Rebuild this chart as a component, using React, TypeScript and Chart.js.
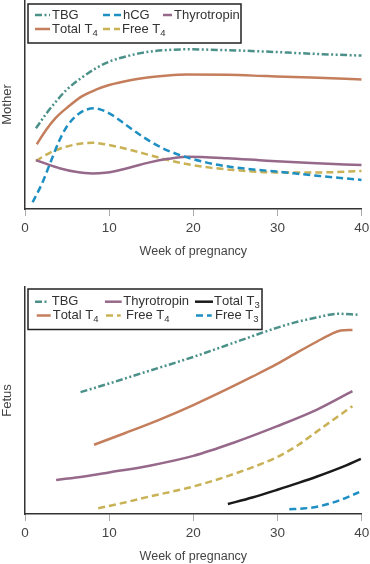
import React, { useEffect, useRef } from 'react';
import { Chart, registerables } from 'chart.js';

Chart.register(...registerables);

// ---------- Data: Mother panel ----------
const xTicks = [0, 10, 20, 30, 40];

const motherTBGWeeks = [1.3, 2.5, 3.7, 4.9, 6.8, 8.5, 10, 12.5, 14.8, 17, 19.2, 24, 28.7, 34, 40];
const motherTBG = [38.6, 45.5, 51.5, 56.9, 63, 67.5, 70.5, 73.5, 75.3, 76.1, 76.4, 76, 75.3, 74.3, 73.4];

const motherTT4Weeks = [1.4, 2.5, 3.7, 5, 6.8, 8.5, 10, 12.5, 14.8, 17, 19.2, 24, 28.7, 34, 40];
const motherTT4 = [31, 37.8, 43.8, 48.5, 54, 57.2, 59.3, 61.6, 63, 63.9, 64.3, 64.2, 63.6, 62.9, 62];

const motherHCGWeeks = [0.9, 2, 2.9, 4, 4.9, 6.4, 8.2, 10, 12, 14, 16, 18.4, 21.5, 24.7, 29.9, 35, 40];
const motherHCG = [3.2, 12, 21, 32, 39, 45.6, 48.2, 45.8, 40.2, 34.6, 29.8, 25.8, 22.3, 20, 17.9, 15.8, 13.9];

const motherFT4Weeks = [1.3, 3, 4.9, 6.5, 8, 10, 12.5, 14.8, 17, 19.2, 22, 24.7, 29.9, 35, 40];
const motherFT4 = [23, 27, 29.8, 31.2, 31.7, 30.6, 28.3, 25.8, 23.4, 21.5, 19.8, 18.7, 17.5, 17.5, 18.2];

const motherTSHWeeks = [1.3, 2.8, 4.1, 6, 8, 9.5, 10.8, 12.8, 14.8, 17, 19.2, 24, 28.7, 34, 40];
const motherTSH = [23.4, 21.2, 19.5, 17.8, 17, 17.3, 18.2, 20.2, 22.3, 24, 25, 24.3, 23.1, 22, 21];

// ---------- Data: Fetus panel ----------
const fetusTBGWeeks = [6.6, 10, 12.8, 16, 20, 24.7, 29.9, 32.5, 34.7, 37.1, 39.5];
const fetusTBG = [53.7, 57.5, 60.8, 64.5, 69.2, 75.3, 82, 84.8, 86.6, 88.2, 87.8];

const fetusTT4Weeks = [8.2, 12, 16, 20, 24, 27, 29.9, 32.5, 34.7, 36.5, 37.5, 38.9];
const fetusTT4 = [30.5, 35.8, 41.6, 48, 55, 60.5, 66, 71.5, 76, 79.5, 80.8, 81.1];

const fetusTSHWeeks = [3.7, 7, 10, 14.8, 20, 24.7, 29.9, 34.7, 38.9];
const fetusTSH = [15, 16.5, 18.3, 21.3, 25.6, 31.3, 38.6, 46, 54.1];

const fetusFT4Weeks = [8.7, 12, 14.8, 20, 24.7, 29.9, 32.5, 34.7, 36.8, 38.9];
const fetusFT4 = [2.5, 5.2, 7.7, 12.1, 17.5, 25, 30.5, 36.4, 42, 47.5];

const fetusTT3Weeks = [24.1, 27, 29.9, 32.5, 34.7, 37.5, 39.9];
const fetusTT3 = [4.4, 7.3, 10.6, 13.7, 16.5, 20.4, 24.3];

const fetusFT3Weeks = [31.4, 33, 34.7, 36.2, 37.5, 39.7];
const fetusFT3 = [2.1, 2.4, 3.2, 4.6, 6.2, 9.6];

// ---------- Styles ----------
const C_TBG = '#4b918a';
const C_TT4 = '#c47e5c';
const C_HCG = '#1e8fc2';
const C_TSH = '#96698a';
const C_FT4 = '#c9b155';
const C_TT3 = '#1a1a1a';
const C_FT3 = '#1e8fc2';
const DASH_DOT_DOT = [7, 2.5, 2, 2.5, 2, 2.5];
const DASH = [7, 4];
const FONT = '"Liberation Sans", Arial, Helvetica, sans-serif';

const pts = (w: number[], v: number[]) => w.map((x, i) => ({ x, y: v[i] }));

const ds = (label: string, w: number[], v: number[], color: string, dash: number[] = []) => ({
  label,
  data: pts(w, v),
  borderColor: color,
  backgroundColor: color,
  borderWidth: 2.5,
  borderDash: dash,
  borderCapStyle: 'butt',
  pointRadius: 0,
  fill: false,
  cubicInterpolationMode: 'monotone',
});

const SUBS: Record<string, string> = { '₀': '0', '₁': '1', '₂': '2', '₃': '3', '₄': '4' };

function drawRich(ctx: CanvasRenderingContext2D, text: string, x: number, y: number) {
  let cx = x;
  for (const ch of text) {
    if (SUBS[ch]) {
      ctx.font = `9.5px ${FONT}`;
      ctx.fillText(SUBS[ch], cx, y + 4);
      cx += ctx.measureText(SUBS[ch]).width;
    } else {
      ctx.font = `13px ${FONT}`;
      ctx.fillText(ch, cx, y);
      cx += ctx.measureText(ch).width;
    }
  }
}

const boxLegend = {
  id: 'boxLegend',
  afterDraw(chart: any, _args: any, opts: any) {
    if (!opts || !opts.items) return;
    const ctx: CanvasRenderingContext2D = chart.ctx;
    ctx.save();
    const [bx, by, bw, bh] = opts.box;
    ctx.fillStyle = '#ffffff';
    ctx.fillRect(bx, by, bw, bh);
    ctx.strokeStyle = '#222';
    ctx.lineWidth = 1.5;
    ctx.setLineDash([]);
    ctx.strokeRect(bx, by, bw, bh);
    for (const it of opts.items) {
      const d = chart.data.datasets[it.i];
      ctx.beginPath();
      ctx.setLineDash(d.borderDash || []);
      ctx.lineCap = 'butt';
      ctx.strokeStyle = d.borderColor;
      ctx.lineWidth = 2.5;
      ctx.moveTo(it.sx, it.y);
      ctx.lineTo(it.ex, it.y);
      ctx.stroke();
      ctx.setLineDash([]);
      ctx.fillStyle = '#333';
      ctx.textBaseline = 'middle';
      ctx.textAlign = 'left';
      drawRich(ctx, d.label, it.tx, it.y);
    }
    ctx.restore();
  },
};

function makeOptions(yTitle: string, xHeight: number, titlePadBottom: number, topPad: number, legend: any) {
  return {
    animation: false,
    responsive: true,
    maintainAspectRatio: false,
    layout: { padding: { top: topPad, left: 0, right: 0, bottom: 0 } },
    plugins: {
      legend: { display: false },
      tooltip: { enabled: false },
      boxLegend: legend,
    },
    scales: {
      x: {
        type: 'linear',
        min: 0,
        max: 40,
        afterBuildTicks: (s: any) => {
          s.ticks = xTicks.map((v) => ({ value: v }));
        },
        afterFit: (s: any) => {
          s.height = xHeight;
          s.paddingLeft = 0;
          s.paddingRight = 8.3;
        },
        border: { display: true, color: '#333', width: 1.5 },
        grid: { drawOnChartArea: false, drawTicks: true, tickLength: 7, tickColor: '#aaa', tickWidth: 1 },
        ticks: { color: '#444', font: { family: FONT, size: 13.5 }, padding: 4, maxRotation: 0 },
        title: {
          display: true,
          text: 'Week of pregnancy',
          color: '#444',
          font: { family: FONT, size: 12.5 },
          padding: { top: 0, bottom: titlePadBottom },
        },
      },
      y: {
        min: 0,
        max: 100,
        afterFit: (s: any) => {
          s.width = 25;
        },
        border: { display: true, color: '#333', width: 1.5 },
        grid: { drawOnChartArea: false, drawTicks: false },
        ticks: { display: false },
        title: {
          display: true,
          text: yTitle,
          color: '#444',
          font: { family: FONT, size: 13 },
          padding: { top: 0, bottom: 0 },
        },
      },
    },
  };
}

function Panel({ height, config }: { height: number; config: any }) {
  const ref = useRef<HTMLCanvasElement | null>(null);
  useEffect(() => {
    if (!ref.current) return;
    const chart = new Chart(ref.current, config);
    return () => chart.destroy();
  }, [config]);
  return (
    <div style={{ position: 'relative', width: 370, height }}>
      <canvas ref={ref} />
    </div>
  );
}

const motherConfig = {
  type: 'line',
  data: {
    datasets: [
      ds('TBG', motherTBGWeeks, motherTBG, C_TBG, DASH_DOT_DOT),
      ds('hCG', motherHCGWeeks, motherHCG, C_HCG, DASH),
      ds('Thyrotropin', motherTSHWeeks, motherTSH, C_TSH),
      ds('Total T₄', motherTT4Weeks, motherTT4, C_TT4),
      ds('Free T₄', motherFT4Weeks, motherFT4, C_FT4, DASH),
    ],
  },
  options: makeOptions('Mother', 71, 20.5, 0, {
    box: [28, 4, 213, 39],
    items: [
      { i: 0, sx: 35, ex: 50, tx: 52, y: 15 },
      { i: 1, sx: 103, ex: 121, tx: 123, y: 15 },
      { i: 2, sx: 163, ex: 172, tx: 174, y: 15 },
      { i: 3, sx: 35, ex: 50, tx: 52, y: 29 },
      { i: 4, sx: 103, ex: 120, tx: 122, y: 29 },
    ],
  }),
  plugins: [boxLegend],
};

const fetusConfig = {
  type: 'line',
  data: {
    datasets: [
      ds('TBG', fetusTBGWeeks, fetusTBG, C_TBG, DASH_DOT_DOT),
      ds('Thyrotropin', fetusTSHWeeks, fetusTSH, C_TSH),
      ds('Total T₃', fetusTT3Weeks, fetusTT3, C_TT3),
      ds('Total T₄', fetusTT4Weeks, fetusTT4, C_TT4),
      ds('Free T₄', fetusFT4Weeks, fetusFT4, C_FT4, DASH),
      ds('Free T₃', fetusFT3Weeks, fetusFT3, C_FT3, DASH),
    ],
  },
  options: makeOptions('Fetus', 50, 0, 7, {
    box: [28, 9, 234, 40.5],
    items: [
      { i: 0, sx: 35, ex: 48, tx: 51.7, y: 21.7 },
      { i: 1, sx: 105, ex: 121.7, tx: 123.3, y: 21.7 },
      { i: 2, sx: 195, ex: 213, tx: 214, y: 21.7 },
      { i: 3, sx: 36.7, ex: 50.7, tx: 52.7, y: 35.5 },
      { i: 4, sx: 106, ex: 120.7, tx: 126, y: 35.5 },
      { i: 5, sx: 196, ex: 211.7, tx: 215, y: 35.5 },
    ],
  }),
  plugins: [boxLegend],
};

export default function App() {
  useEffect(() => {
    document.body.style.margin = '0';
  }, []);
  return (
    <div style={{ width: 370, height: 564, background: '#fff' }}>
      <Panel height={280} config={motherConfig} />
      <Panel height={284} config={fetusConfig} />
    </div>
  );
}
